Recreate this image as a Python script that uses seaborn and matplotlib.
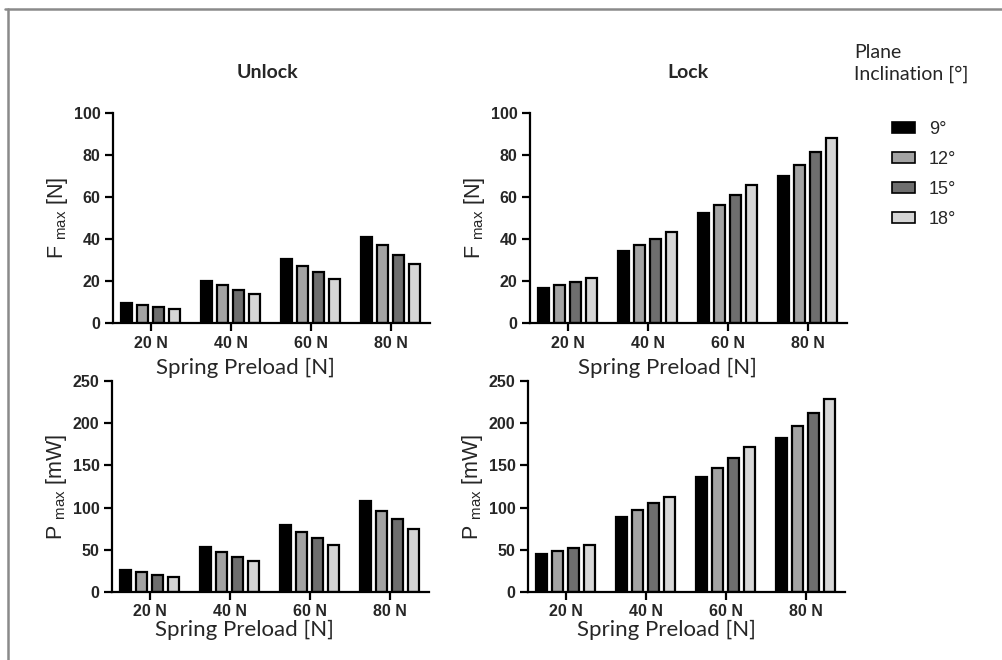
import matplotlib
matplotlib.use("Agg")
import matplotlib.pyplot as plt
from matplotlib.patches import Patch
from matplotlib.lines import Line2D
import seaborn as sns
import pandas as pd

# ---------------- data ----------------
preloads = ["20 N", "40 N", "60 N", "80 N"]
inclinations = ["9°", "12°", "15°", "18°"]
bar_colors = ["#000000", "#a3a3a3", "#6e6e6e", "#d6d6d6"]

# rows = preload, columns = inclination (9°, 12°, 15°, 18°)
unlock_fmax = [[9.5, 8.4, 7.6, 6.5],
               [20.2, 17.9, 15.9, 14.0],
               [30.6, 27.3, 24.3, 21.1],
               [40.8, 37.0, 32.5, 28.2]]
lock_fmax = [[16.7, 18.3, 19.7, 21.3],
             [34.4, 37.3, 40.1, 43.3],
             [52.2, 56.2, 61.0, 65.8],
             [69.9, 75.3, 81.5, 87.9]]
unlock_pmax = [[26.5, 23.3, 20.2, 17.8],
               [53.0, 47.5, 41.9, 36.4],
               [79.9, 71.6, 64.5, 55.8],
               [107.6, 96.1, 86.6, 74.8]]
lock_pmax = [[44.7, 48.3, 51.8, 55.4],
             [89.4, 97.7, 105.2, 113.1],
             [136.1, 146.8, 158.6, 171.3],
             [182.8, 196.6, 212.0, 229.0]]

f_ticks = [0, 20, 40, 60, 80, 100]
p_ticks = [0, 50, 100, 150, 200, 250]


def to_long(values):
    rows = []
    for i, p in enumerate(preloads):
        for j, inc in enumerate(inclinations):
            rows.append({"preload": p, "incl": inc, "value": values[i][j]})
    return pd.DataFrame(rows)


sns.set_theme(style="ticks")
plt.rcParams["font.family"] = ["Liberation Sans", "DejaVu Sans"]
plt.rcParams["mathtext.fontset"] = "custom"
plt.rcParams["mathtext.rm"] = "Liberation Sans"
plt.rcParams["mathtext.it"] = "Liberation Sans"

W, H = 1003, 660
fig = plt.figure(figsize=(W / 100, H / 100), dpi=100)
fig.patch.set_facecolor("white")


def fx(px):
    return px / W


def fy(py):
    return 1 - py / H


panels = [
    (unlock_fmax, 113, 113, 323, f_ticks, r"F $\mathregular{_{max}}$ [N]", 0.418),
    (lock_fmax, 530, 113, 323, f_ticks, r"F $\mathregular{_{max}}$ [N]", 0.432),
    (unlock_pmax, 112, 381, 592, p_ticks, r"P $\mathregular{_{max}}$ [mW]", 0.418),
    (lock_pmax, 528, 381, 592, p_ticks, r"P $\mathregular{_{max}}$ [mW]", 0.437),
]
axes = []
for k, (vals, left, top, bottom, ticks, ylab, xlab_x) in enumerate(panels):
    width_px = 317
    ax = fig.add_axes([fx(left), fy(bottom), width_px / W, (bottom - top) / H])
    df = to_long(vals)
    sns.barplot(data=df, x="preload", y="value", hue="incl",
                hue_order=inclinations, order=preloads,
                palette=bar_colors, saturation=1, width=0.8, gap=0.3,
                edgecolor="black", linewidth=1.6, errorbar=None,
                legend=False, ax=ax)
    ax.set_ylim(ticks[0], ticks[-1])
    ax.set_yticks(ticks)
    ax.set_xlim(-0.47, 3.49)
    for s in ["top", "right"]:
        ax.spines[s].set_visible(False)
    for s in ["left", "bottom"]:
        ax.spines[s].set_linewidth(1.6)
        ax.spines[s].set_color("black")
    ax.tick_params(axis="both", length=6, width=1.6, color="black",
                   labelsize=11.5, pad=3)
    for lab in ax.get_xticklabels() + ax.get_yticklabels():
        lab.set_fontweight("bold")
    ax.set_ylabel(ylab, fontsize=15.5)
    ax.yaxis.set_label_coords(-0.137, 0.5)
    ax.set_xlabel("Spring Preload [N]", fontsize=16, family="Lato")
    ax.xaxis.set_label_coords(xlab_x, -0.168 if k < 2 else -0.133)
    ax.set_facecolor("white")
    axes.append(ax)

# column titles
fig.text(fx(267), fy(73), "Unlock", ha="center", va="center",
         fontsize=14, fontweight="bold", family="Lato")
fig.text(fx(688), fy(73), "Lock", ha="center", va="center",
         fontsize=14, fontweight="bold", family="Lato")

# legend
handles = [Patch(facecolor=c, edgecolor="black", linewidth=1.2, label=l)
           for c, l in zip(bar_colors, inclinations)]
fig.text(fx(854), fy(44), "Plane\nInclination [°]", ha="left", va="top",
         fontsize=14, family="Lato", linespacing=1.35)
fig.legend(handles=handles, loc="upper left",
           bbox_to_anchor=(fx(892), fy(121)), frameon=False,
           fontsize=13, handlelength=1.3, handleheight=0.5,
           handletextpad=0.75, labelspacing=0.72, borderpad=0,
           borderaxespad=0)

# outer frame (top and left edges)
fig.add_artist(Line2D([fx(5), fx(1003)], [fy(9), fy(9)], color="#8a8a8a",
                      linewidth=1.8, transform=fig.transFigure))
fig.add_artist(Line2D([fx(8), fx(8)], [fy(9), fy(660)], color="#8a8a8a",
                      linewidth=1.8, transform=fig.transFigure))

fig.savefig("out.png", dpi=100, facecolor="white")
